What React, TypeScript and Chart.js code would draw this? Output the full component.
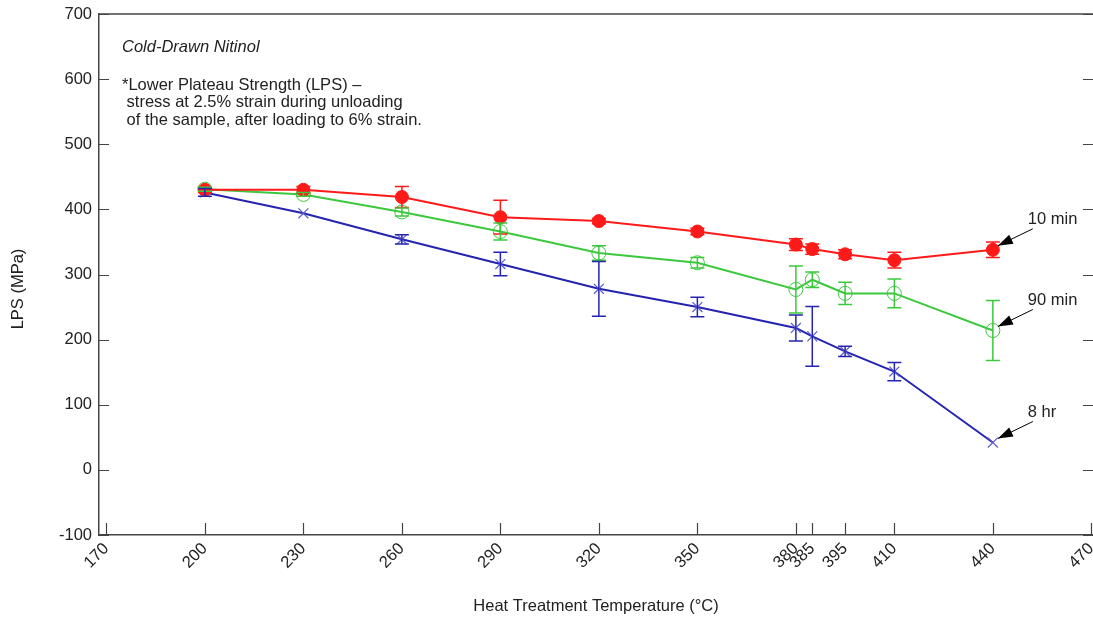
import React, { useEffect, useRef } from 'react';
import { Chart, registerables } from 'chart.js';
Chart.register(...registerables);

// ---- data ----
const temperatures = [200, 230, 260, 290, 320, 350, 380, 385, 395, 410, 440];
const lps10min = [430, 430, 419, 388, 382, 366, 346, 339, 331, 322, 338];
const err10min = [4, 5, 16, 26, 4, 5, 9, 8, 7, 12, 12];
const lps90min = [431, 423, 396, 366, 333, 318, 277, 292, 271, 271, 214];
const err90min = [3, 3, 6, 13, 11, 8, 36, 12, 17, 22, 46];
const lps8hr = [426, 394, 354, 316, 278, 250, 218, 205, 182, 151, 42];
const err8hr = [6, 0, 7, 18, 42, 15, 20, 46, 8, 14, 0];
const seriesLabels = ['10 min', '90 min', '8 hr'];
const xTickValues = [170, 200, 230, 260, 290, 320, 350, 380, 385, 395, 410, 440, 470];
const noteTitle = 'Cold-Drawn Nitinol';
const noteLines = [
  '*Lower Plateau Strength (LPS) \u2013',
  ' stress at 2.5% strain during unloading',
  ' of the sample, after loading to 6% strain.',
];

const FONT = 'Arial, "Liberation Sans", sans-serif';
const FS = 16.5;
const RED = '#ff1a1a';
const GREEN = '#3cc83c';
const BLUE = '#2424b0';
const BLUE_MARK = '#5a5ad0';
const AXIS = '#444444';
const TEXT = '#222222';

const errors = [err10min, err90min, err8hr];

const overlay = {
  id: 'overlay',
  afterDatasetsDraw(chart: any) {
    const { ctx, scales } = chart;
    const x = scales.x;
    const y = scales.y;
    ctx.save();
    chart.data.datasets.forEach((ds: any, di: number) => {
      const errs = errors[di];
      ctx.strokeStyle = ds.borderColor;
      ctx.lineWidth = 1.5;
      ds.data.forEach((p: any, i: number) => {
        const e = errs[i];
        if (!e) return;
        const px = x.getPixelForValue(p.x);
        const yt = y.getPixelForValue(p.y + e);
        const yb = y.getPixelForValue(p.y - e);
        ctx.beginPath();
        ctx.moveTo(px, yt);
        ctx.lineTo(px, yb);
        ctx.moveTo(px - 7, yt);
        ctx.lineTo(px + 7, yt);
        ctx.moveTo(px - 7, yb);
        ctx.lineTo(px + 7, yb);
        ctx.stroke();
      });
    });
    ctx.restore();
  },
  afterDraw(chart: any) {
    const { ctx, chartArea, scales } = chart;
    const x = scales.x;
    const y = scales.y;
    ctx.save();
    // frame: top line
    ctx.strokeStyle = AXIS;
    ctx.lineWidth = 1.5;
    ctx.beginPath();
    ctx.moveTo(chartArea.left, chartArea.top);
    ctx.lineTo(chartArea.right, chartArea.top);
    ctx.stroke();
    // inward ticks
    ctx.lineWidth = 1.2;
    ctx.beginPath();
    y.ticks.forEach((t: any) => {
      const py = Math.round(y.getPixelForValue(t.value)) + 0.5;
      ctx.moveTo(chartArea.left, py);
      ctx.lineTo(chartArea.left + 10, py);
      ctx.moveTo(chartArea.right - 10, py);
      ctx.lineTo(chartArea.right, py);
    });
    x.ticks.forEach((t: any) => {
      const px = Math.round(x.getPixelForValue(t.value)) + 0.5;
      ctx.moveTo(px, chartArea.bottom);
      ctx.lineTo(px, chartArea.bottom - 12);
    });
    ctx.stroke();

    // y axis title
    ctx.fillStyle = TEXT;
    ctx.font = `${FS}px ${FONT}`;
    ctx.save();
    ctx.translate(18, 289);
    ctx.rotate(-Math.PI / 2);
    ctx.textAlign = 'center';
    ctx.textBaseline = 'middle';
    ctx.fillText('LPS (MPa)', 0, 0);
    ctx.restore();

    // notes
    ctx.textAlign = 'left';
    ctx.textBaseline = 'middle';
    ctx.font = `italic ${FS}px ${FONT}`;
    ctx.fillText(noteTitle, chartArea.left + 23, 47);
    ctx.font = `${FS}px ${FONT}`;
    noteLines.forEach((l, i) => ctx.fillText(l, chartArea.left + 23, 85 + i * 17.5));

    // arrows with labels
    chart.data.datasets.forEach((ds: any, di: number) => {
      const last = ds.data[ds.data.length - 1];
      const px = x.getPixelForValue(last.x);
      const py = y.getPixelForValue(last.y);
      const tipX = px + 5;
      const tipY = py - 4;
      const tailX = px + 40;
      const tailY = py - 21;
      const ang = Math.atan2(tipY - tailY, tipX - tailX);
      ctx.strokeStyle = '#000';
      ctx.fillStyle = '#000';
      ctx.lineWidth = 1;
      ctx.beginPath();
      ctx.moveTo(tailX, tailY);
      ctx.lineTo(tipX, tipY);
      ctx.stroke();
      const L = 15;
      const W = 5;
      const bx = tipX - L * Math.cos(ang);
      const by = tipY - L * Math.sin(ang);
      ctx.beginPath();
      ctx.moveTo(tipX, tipY);
      ctx.lineTo(bx - W * Math.sin(ang), by + W * Math.cos(ang));
      ctx.lineTo(bx + W * Math.sin(ang), by - W * Math.cos(ang));
      ctx.closePath();
      ctx.fill();
      ctx.fillStyle = TEXT;
      ctx.font = `${FS}px ${FONT}`;
      ctx.textAlign = 'left';
      ctx.textBaseline = 'middle';
      ctx.fillText(seriesLabels[di], tailX - 5, tailY - 9);
    });
    ctx.restore();
  },
};

export default function App() {
  const ref = useRef<HTMLCanvasElement>(null);
  useEffect(() => {
    const mk = (vals: number[]) => temperatures.map((t, i) => ({ x: t, y: vals[i] }));
    const chart = new Chart(ref.current as HTMLCanvasElement, {
      type: 'line',
      data: {
        datasets: [
          {
            label: seriesLabels[0],
            data: mk(lps10min),
            borderColor: RED,
            backgroundColor: RED,
            pointBackgroundColor: RED,
            pointBorderColor: RED,
            pointStyle: 'circle',
            pointRadius: 6.5,
            pointBorderWidth: 1,
            borderWidth: 2,
            fill: false,
          },
          {
            label: seriesLabels[1],
            data: mk(lps90min),
            borderColor: GREEN,
            backgroundColor: GREEN,
            pointBackgroundColor: 'rgba(0,0,0,0)',
            pointBorderColor: GREEN,
            pointStyle: 'circle',
            pointRadius: 7,
            pointBorderWidth: 1,
            borderWidth: 2,
            fill: false,
          },
          {
            label: seriesLabels[2],
            data: mk(lps8hr),
            borderColor: BLUE,
            backgroundColor: BLUE,
            pointBackgroundColor: BLUE_MARK,
            pointBorderColor: BLUE_MARK,
            pointStyle: 'crossRot',
            pointRadius: 7,
            pointBorderWidth: 1.2,
            borderWidth: 2,
            fill: false,
          },
        ],
      },
      options: {
        animation: false,
        responsive: false,
        layout: { autoPadding: false, padding: { top: 14, left: 0, right: 0, bottom: 0 } },
        plugins: { legend: { display: false }, tooltip: { enabled: false } },
        scales: {
          x: {
            type: 'linear',
            min: 167.75,
            max: 470.5,
            afterBuildTicks: (s: any) => {
              s.ticks = xTickValues.map((v) => ({ value: v }));
            },
            afterFit: (s: any) => {
              s.height = 84;
              s.paddingLeft = 0;
              s.paddingRight = 0;
            },
            grid: { display: false, drawTicks: false },
            border: { color: AXIS, width: 1.5 },
            ticks: {
              autoSkip: false,
              minRotation: 45,
              maxRotation: 45,
              padding: 4,
              color: TEXT,
              font: { family: FONT, size: FS },
              callback: (v: any) => String(v),
            },
            title: {
              display: true,
              text: 'Heat Treatment Temperature (\u00B0C)',
              color: TEXT,
              font: { family: FONT, size: FS },
              padding: { top: 0, bottom: 3 },
            },
          },
          y: {
            min: -100,
            max: 700,
            afterFit: (s: any) => {
              s.width = 99;
              s.paddingTop = 0;
              s.paddingBottom = 0;
            },
            grid: { display: false, drawTicks: false },
            border: { color: AXIS, width: 1.5 },
            ticks: {
              stepSize: 100,
              padding: 7,
              color: TEXT,
              font: { family: FONT, size: FS },
            },
          },
        },
      },
      plugins: [overlay],
    } as any);
    return () => chart.destroy();
  }, []);
  return (
    <div style={{ position: 'absolute', left: 0, top: 0, width: 1093, height: 619, background: '#fff' }}>
      <canvas ref={ref} width={1093} height={619} style={{ display: 'block' }} />
    </div>
  );
}
